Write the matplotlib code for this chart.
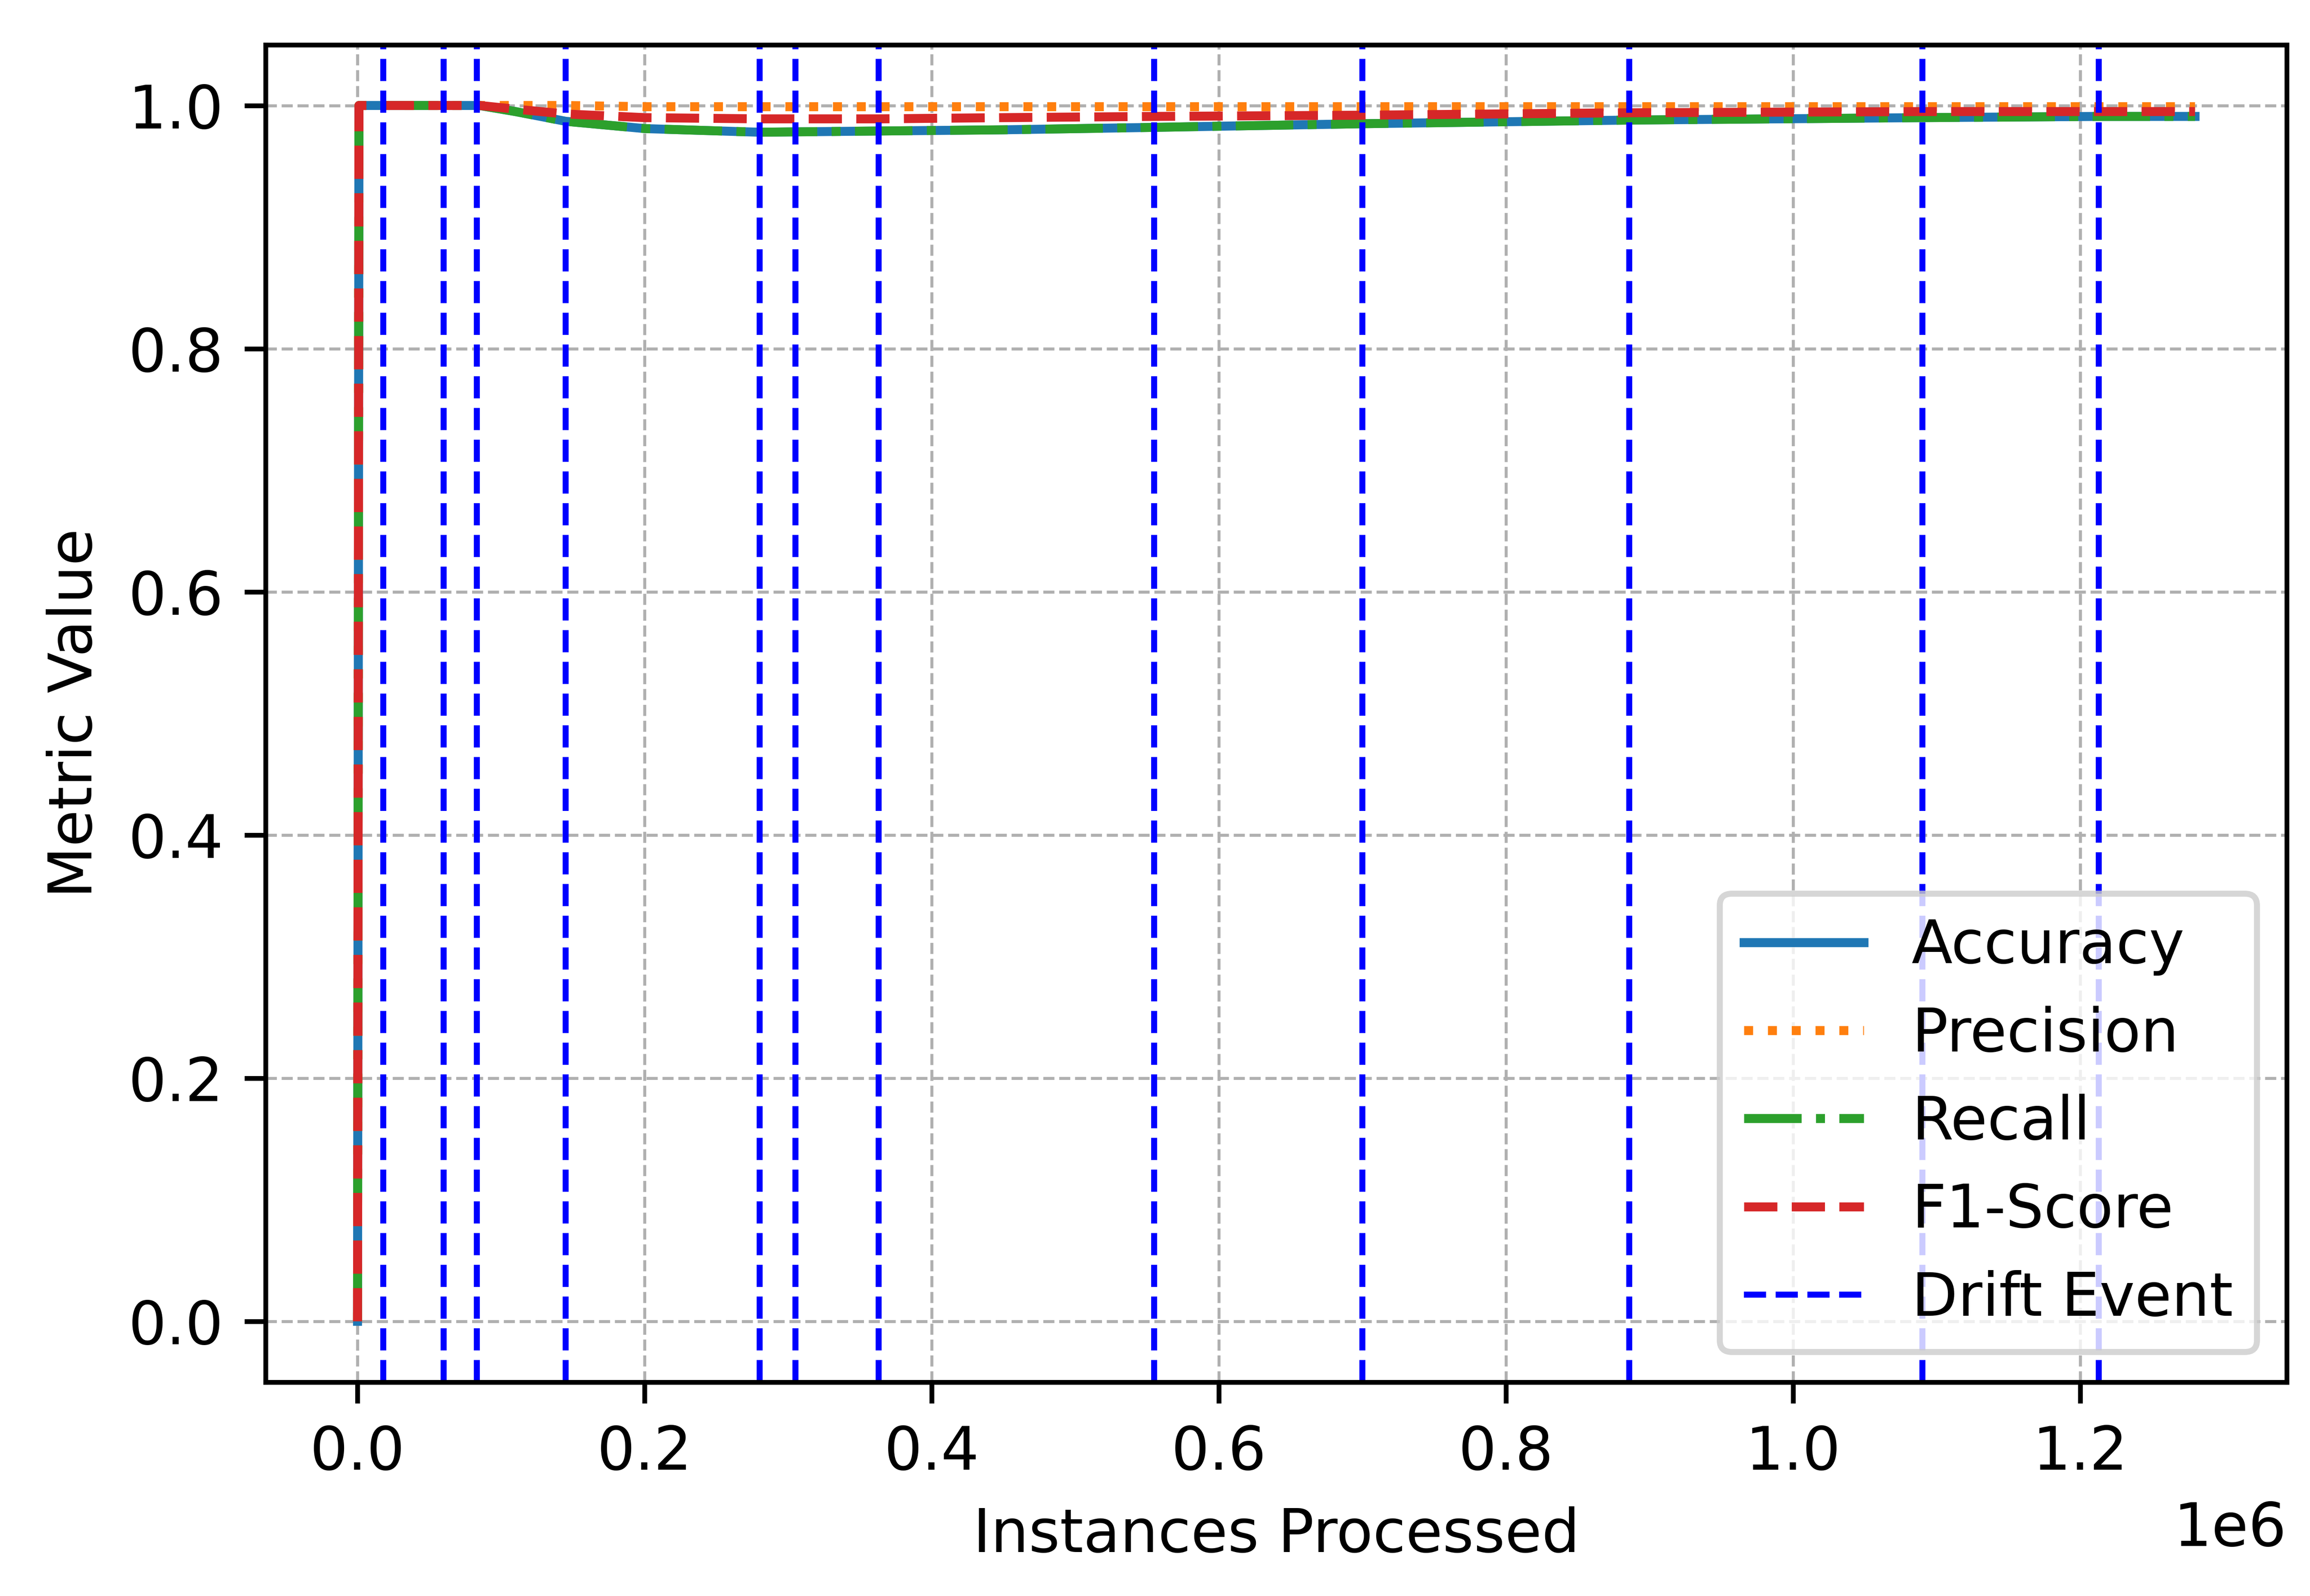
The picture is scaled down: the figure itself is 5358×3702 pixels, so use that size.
import numpy as np
import matplotlib.pyplot as plt

instances = [0, 1000, 20000, 60000, 85000, 110000, 145000, 200000, 280000, 363000, 450000, 555000, 700000, 886000, 1090000, 1213000, 1280000]
accuracy = [0.0, 1.0, 1.0, 1.0, 1.0, 0.995, 0.987, 0.981, 0.978, 0.979, 0.980, 0.982, 0.985, 0.988, 0.990, 0.991, 0.991]
precision = [0.0, 1.0, 1.0, 1.0, 1.0, 1.0, 1.0, 0.999, 0.999, 0.999, 0.999, 0.999, 0.999, 0.999, 0.999, 0.999, 0.999]
recall = [0.0, 1.0, 1.0, 1.0, 1.0, 0.995, 0.987, 0.981, 0.978, 0.979, 0.980, 0.982, 0.985, 0.988, 0.990, 0.991, 0.991]
f1_score = [0.0, 1.0, 1.0, 1.0, 1.0, 0.997, 0.993, 0.990, 0.989, 0.989, 0.990, 0.991, 0.992, 0.994, 0.995, 0.995, 0.995]
drift_events = [18000, 60000, 83000, 145000, 280000, 305000, 363000, 555000, 700000, 886000, 1090000, 1213000]

fig, ax = plt.subplots(figsize=(5.358, 3.702))
ax.plot(instances, accuracy, color='#1f77b4', linestyle='-', linewidth=1.5, label='Accuracy')
ax.plot(instances, precision, color='#ff7f0e', linestyle=':', linewidth=1.5, label='Precision')
ax.plot(instances, recall, color='#2ca02c', linestyle='-.', linewidth=1.5, label='Recall')
ax.plot(instances, f1_score, color='#d62728', linestyle='--', linewidth=1.5, label='F1-Score')
for i, x in enumerate(drift_events):
    ax.axvline(x, color='blue', linestyle='--', linewidth=1, label='Drift Event' if i == 0 else None)

ax.set_xlim(-64000, 1344000)
ax.set_ylim(-0.05, 1.05)
ax.set_xlabel('Instances Processed')
ax.set_ylabel('Metric Value')
ax.grid(True, linestyle='--', linewidth=0.5)
ax.legend(loc='lower right')
fig.subplots_adjust(left=0.115, right=0.99, top=0.972, bottom=0.134)
plt.savefig('out.png', dpi=1000)
